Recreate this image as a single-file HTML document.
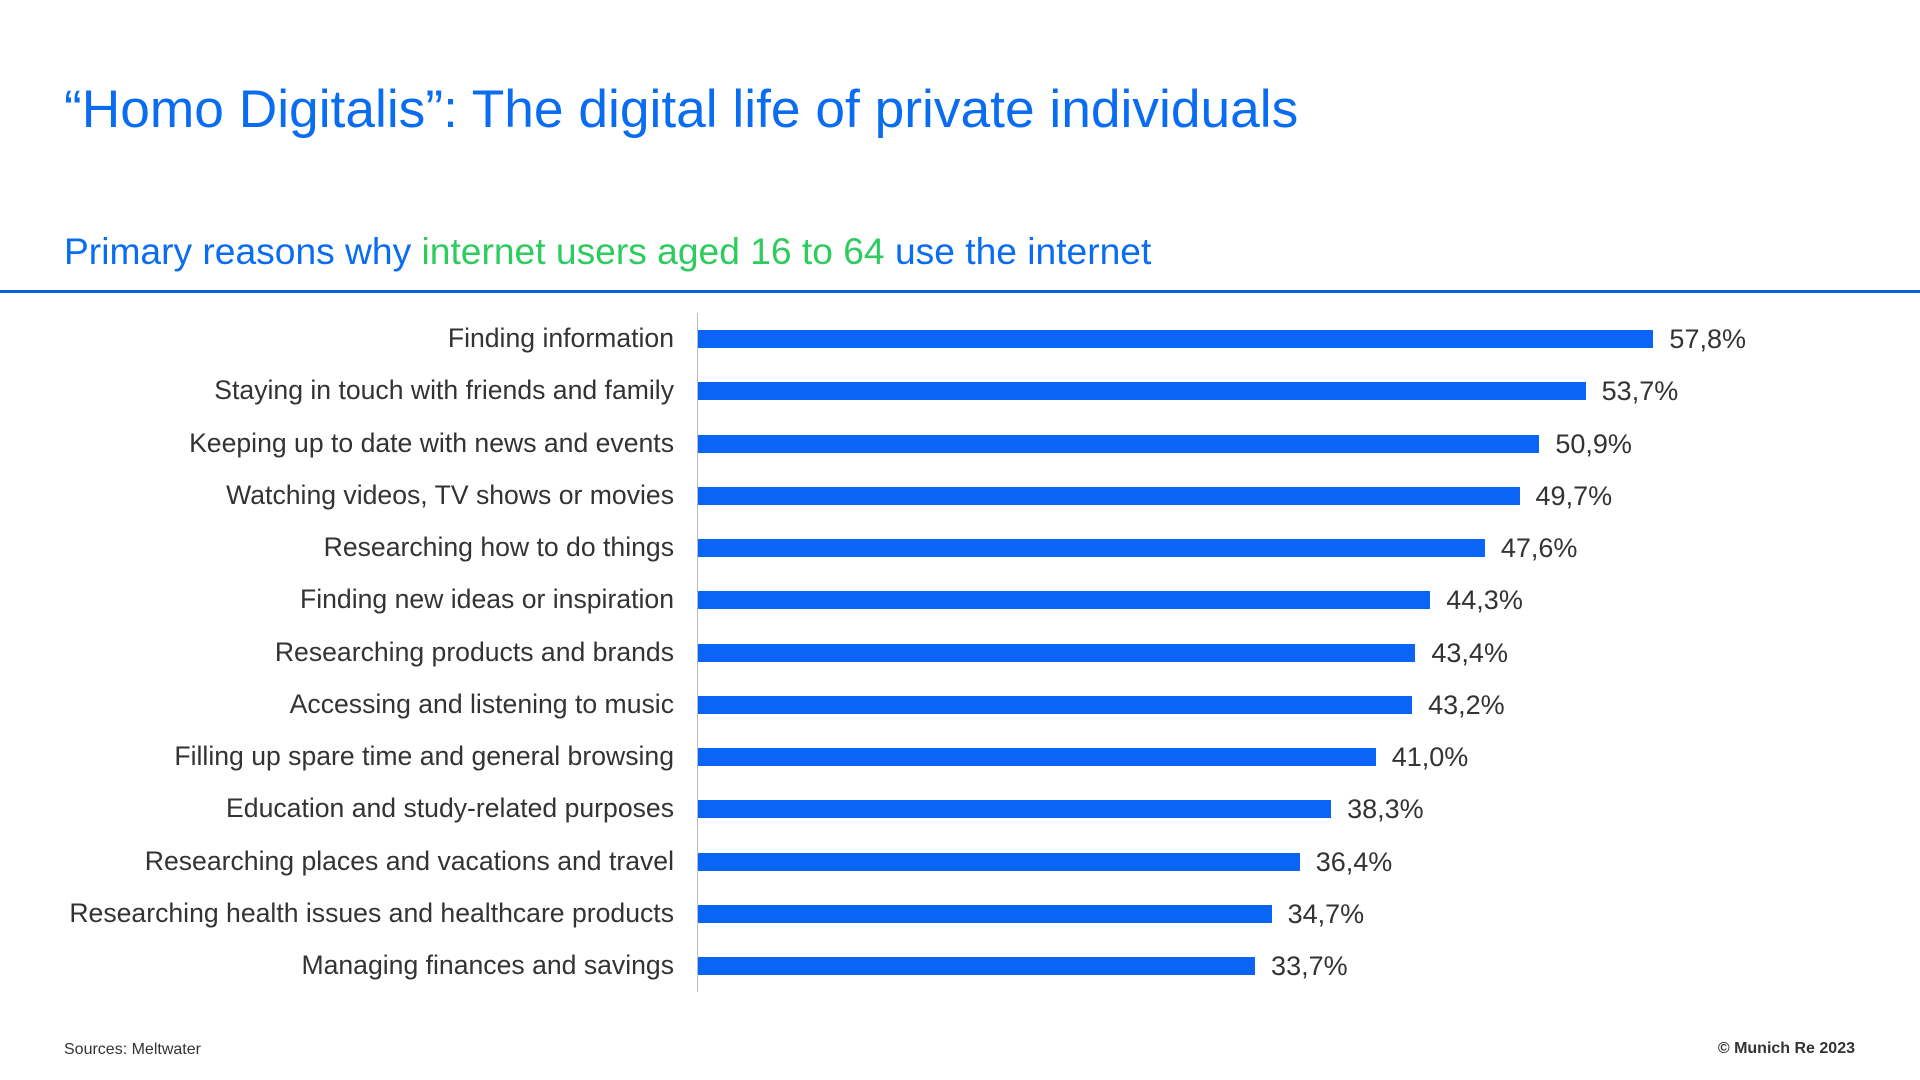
<!DOCTYPE html>
<html><head><meta charset="utf-8"><style>
*{margin:0;padding:0}
body{width:1920px;height:1080px;background:#fff;position:relative;overflow:hidden;font-family:"Liberation Sans",Arial,sans-serif}
.t{position:absolute;left:64px;top:79px;font-size:53.3px;color:#0a6cf0;white-space:nowrap}
.s{position:absolute;left:64px;top:230px;font-size:37.2px;color:#0a6cf0;white-space:nowrap}
.s span{color:#2ecc5e}
.hl{position:absolute;left:0;top:290px;width:1920px;height:3px;background:#0a5ed8}
.ax{position:absolute;left:697px;top:313px;width:1px;height:679px;background:#bbb}
.l{position:absolute;right:1246px;font-size:26.6px;color:#333;white-space:nowrap;line-height:30px}
.b{position:absolute;left:698px;height:18px;background:#0a64f5}
.v{position:absolute;font-size:27px;color:#333;line-height:30px;white-space:nowrap}
.f1{position:absolute;left:64px;top:1041px;font-size:16px;color:#333}
.f2{position:absolute;right:65px;top:1040px;font-size:16px;color:#333;font-weight:bold}
</style></head><body>
<div class="t">“Homo Digitalis”: The digital life of private individuals</div>
<div class="s">Primary reasons why <span>internet users aged 16 to 64</span> use the internet</div>
<div class="hl"></div>
<div class="ax"></div>
<div id="c"></div>
<div class="f1">Sources: Meltwater</div>
<div class="f2">© Munich Re 2023</div>
<script>
var d=[["Finding information",57.8],["Staying in touch with friends and family",53.7],["Keeping up to date with news and events",50.9],["Watching videos, TV shows or movies",49.7],["Researching how to do things",47.6],["Finding new ideas or inspiration",44.3],["Researching products and brands",43.4],["Accessing and listening to music",43.2],["Filling up spare time and general browsing",41.0],["Education and study-related purposes",38.3],["Researching places and vacations and travel",36.4],["Researching health issues and healthcare products",34.7],["Managing finances and savings",33.7]];
var h="";
d.forEach(function(r,i){var cy=339+i*52.25;var w=r[1]*16.53;
h+='<div class="l" style="top:'+(cy-16)+'px">'+r[0]+'</div>';
h+='<div class="b" style="top:'+(cy-9)+'px;width:'+w+'px"></div>';
h+='<div class="v" style="top:'+(cy-15)+'px;left:'+(698+w+16)+'px">'+r[1].toFixed(1).replace('.',',')+'%</div>';});
document.getElementById("c").innerHTML=h;
</script>
</body></html>
